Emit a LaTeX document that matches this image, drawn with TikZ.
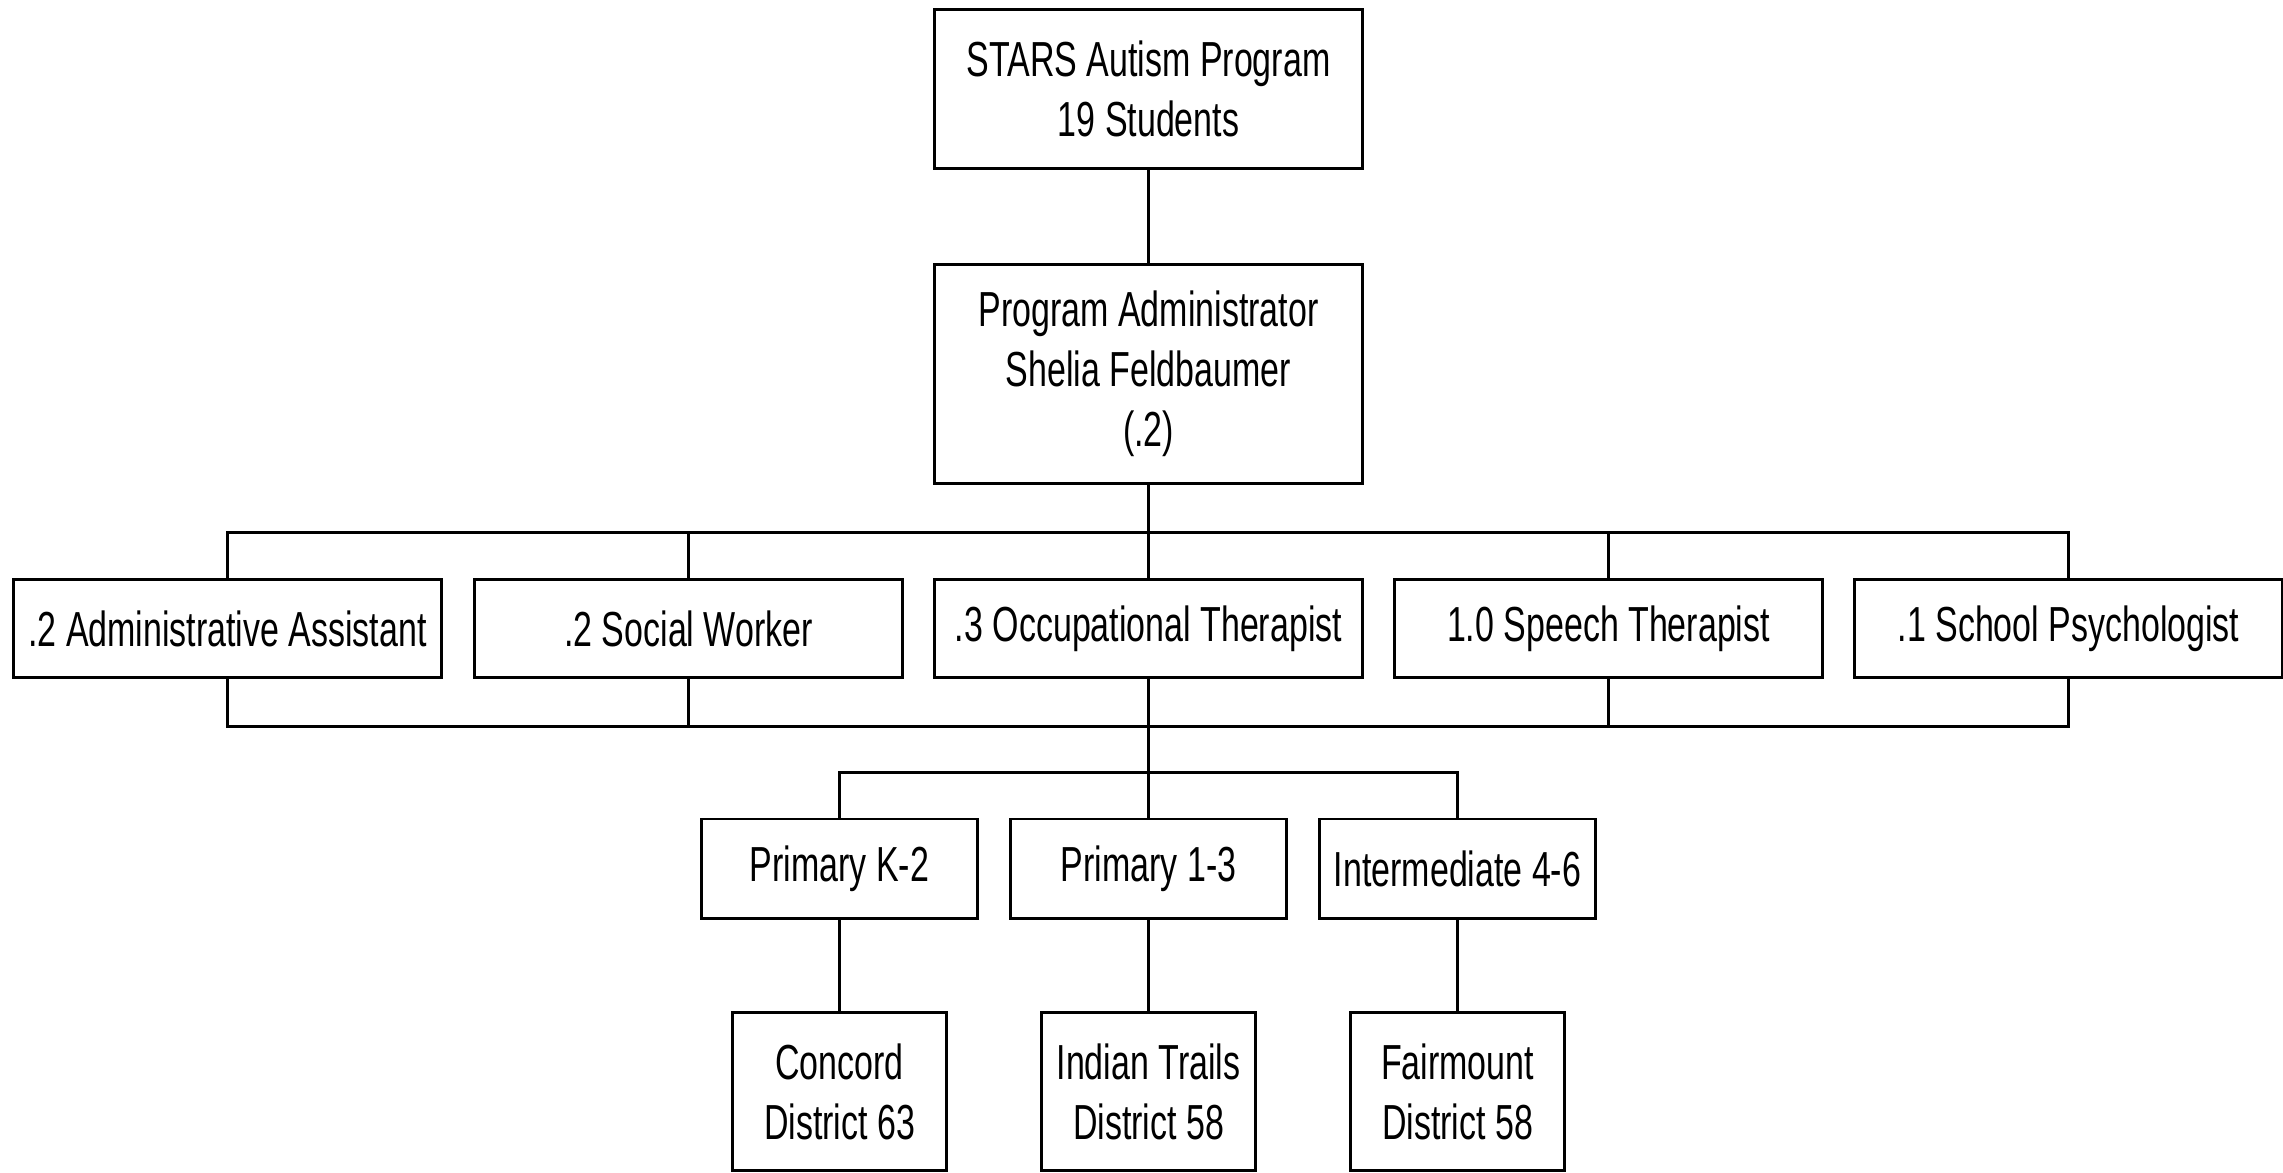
\documentclass[tikz,border=0pt]{standalone}
\usepackage{fontspec}
\setmainfont{Liberation Sans}[FakeStretch=0.69]
\begin{document}
\begin{tikzpicture}[x=0.01cm,y=-0.01cm,
  box/.style={draw=black,line width=0.85pt,inner sep=0pt,align=center,
    font=\fontsize{14pt}{17pt}\selectfont,fill=white},
  wide/.style={box,minimum width=4.27cm},
  mid/.style={box,minimum width=2.75cm,minimum height=0.99cm},
  low/.style={box,minimum width=2.14cm,minimum height=1.57cm},
  conn/.style={draw=black,line width=0.85pt}]
\useasboundingbox (0,0) rectangle (2283,1172);
\fill[white] (0,0) rectangle (2283,1172);
% nodes
\node[wide,minimum height=1.58cm] (top) at (1148.5,89) {STARS Autism Program\\19 Students};
\node[wide,minimum height=2.18cm] (admin) at (1148.5,374) {Program Administrator\\Shelia Feldbaumer\\(.2)};
\node[wide,minimum height=0.97cm] (s1) at (227.5,628.5) {.2 Administrative Assistant};
\node[wide,minimum height=0.97cm] (s2) at (688.5,628.5) {.2 Social Worker};
\node[wide,minimum height=0.97cm] (s3) at (1148.5,628.5) {.3 Occupational Therapist};
\node[wide,minimum height=0.97cm] (s4) at (1608.5,628.5) {1.0 Speech Therapist};
\node[wide,minimum height=0.97cm] (s5) at (2068.5,628.5) {.1 School Psychologist};
\node[mid] (p1) at (839.5,868.5) {Primary K-2};
\node[mid] (p2) at (1148.5,868.5) {Primary 1-3};
\node[mid] (p3) at (1457.5,868.5) {Intermediate 4-6};
\node[low] (d1) at (839.5,1091.5) {Concord\\District 63};
\node[low] (d2) at (1148.5,1091.5) {Indian Trails\\District 58};
\node[low] (d3) at (1457.5,1091.5) {Fairmount\\District 58};
% bus coordinates
\coordinate (tb) at (1148.5,532);
\coordinate (bb) at (1148.5,726);
\coordinate (pb) at (1148.5,772);
% connectors
\draw[conn] (top) -- (admin);
\draw[conn] (admin.south) -- (s3.north);
\draw[conn] (s1.north) -- (s1.north |- tb) -- (s5.north |- tb) -- (s5.north);
\draw[conn] (s2.north) -- (s2.north |- tb);
\draw[conn] (s4.north) -- (s4.north |- tb);
\draw[conn] (s1.south) -- (s1.south |- bb) -- (s5.south |- bb) -- (s5.south);
\draw[conn] (s2.south) -- (s2.south |- bb);
\draw[conn] (s4.south) -- (s4.south |- bb);
\draw[conn] (s3.south) -- (p2.north);
\draw[conn] (p1.north) -- (p1.north |- pb) -- (p3.north |- pb) -- (p3.north);
\draw[conn] (p1.south) -- (d1.north);
\draw[conn] (p2.south) -- (d2.north);
\draw[conn] (p3.south) -- (d3.north);
\end{tikzpicture}
\end{document}
